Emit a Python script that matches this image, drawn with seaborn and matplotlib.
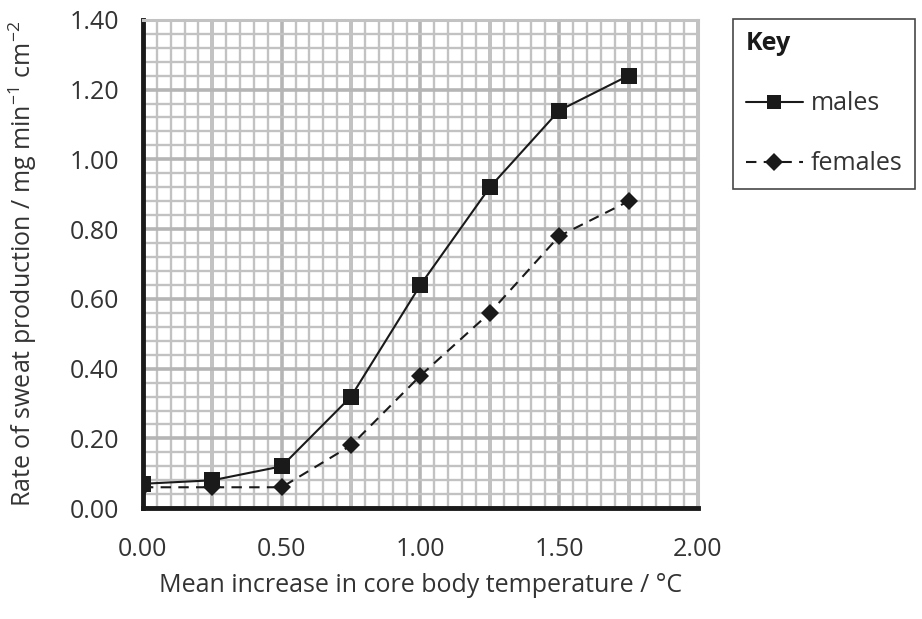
import matplotlib
matplotlib.use("Agg")
import matplotlib.pyplot as plt
from matplotlib.lines import Line2D
from matplotlib.ticker import MultipleLocator
import seaborn as sns
import pandas as pd

temperature = [0.00, 0.25, 0.50, 0.75, 1.00, 1.25, 1.50, 1.75]
males = [0.07, 0.08, 0.12, 0.32, 0.64, 0.92, 1.14, 1.24]
females = [0.06, 0.06, 0.06, 0.18, 0.38, 0.56, 0.78, 0.88]
series_names = ["males", "females"]
x_ticks = [0.00, 0.50, 1.00, 1.50, 2.00]
y_ticks = [0.00, 0.20, 0.40, 0.60, 0.80, 1.00, 1.20, 1.40]

df = pd.DataFrame({
    "temp": temperature * 2,
    "rate": males + females,
    "sex": [series_names[0]] * len(males) + [series_names[1]] * len(females),
})

sns.set_style("white")
plt.rcParams["font.family"] = ["Open Sans", "DejaVu Sans"]
plt.rcParams["mathtext.fontset"] = "custom"
plt.rcParams["mathtext.rm"] = "Open Sans"
plt.rcParams["mathtext.it"] = "Open Sans"
plt.rcParams["mathtext.default"] = "regular"

text_color = "#333333"
ink = "#1a1a1a"
grid_minor = "#c2c2c2"
grid_major = "#b5b5b5"

fig = plt.figure(figsize=(9.22, 6.19), dpi=100)
ax = fig.add_axes([0.155, 0.179, 0.602, 0.789])

sns.lineplot(
    data=df, x="temp", y="rate", style="sex",
    markers={"males": "s", "females": "D"},
    dashes={"males": "", "females": (5, 3.5)},
    color=ink, linewidth=1.5, markersize=11,
    markeredgewidth=0, ax=ax, legend=False,
)
for line in ax.lines:
    if line.get_marker() == "D":
        line.set_markersize(9.5)

ax.set_xlim(0, 2.0)
ax.set_ylim(0, 1.40)
ax.xaxis.set_minor_locator(MultipleLocator(0.05))
ax.yaxis.set_minor_locator(MultipleLocator(0.04))
ax.grid(True, which="minor", color=grid_minor, linewidth=1.7)
ax.grid(True, which="major", color=grid_major, linewidth=2.6)
ax.set_axisbelow(True)

ax.set_xticks(x_ticks)
ax.set_xticklabels([f"{v:.2f}" for v in x_ticks])
ax.set_yticks(y_ticks)
ax.set_yticklabels([f"{v:.2f}" for v in y_ticks])
for xv in [0.25, 0.75, 1.25, 1.75]:
    ax.axvline(xv, color=grid_major, linewidth=2.6, zorder=0.5)

ax.tick_params(axis="x", which="major", pad=10)
ax.tick_params(axis="y", which="major", pad=6)
ax.tick_params(axis="both", which="major", direction="out", length=11, width=1.3,
               color=ink, labelsize=18, labelcolor=text_color)
ax.tick_params(axis="both", which="minor", length=0)

for side in ["top", "right"]:
    ax.spines[side].set_color(grid_minor)
    ax.spines[side].set_linewidth(2.2)
for side in ["left", "bottom"]:
    ax.spines[side].set_color(ink)
    ax.spines[side].set_linewidth(3.5)

ax.set_xlabel("Mean increase in core body temperature / \u00b0C", fontsize=18,
              color=text_color, labelpad=8)
ax.set_ylabel("Rate of sweat production / mg min$^{-1}$ cm$^{-2}$", fontsize=18,
              color=text_color, labelpad=22)

handles = [
    Line2D([], [], color=ink, linewidth=1.5, marker="s", markersize=10, markeredgewidth=0),
    Line2D([], [], color=ink, linewidth=1.5, linestyle=(0, (5, 3.5)), marker="D",
           markersize=9, markeredgewidth=0),
]
leg = fig.legend(handles, series_names, title="Key", loc="upper left",
                 bbox_to_anchor=(733 / 922, 1 - 19 / 619), frameon=True,
                 fancybox=False, edgecolor=ink, fontsize=18, title_fontsize=18,
                 alignment="left", handlelength=2.3, labelspacing=1.4,
                 borderpad=0.5, handletextpad=0.3, borderaxespad=0)
leg.get_title().set_fontweight("bold")
leg.get_title().set_color(ink)
for t in leg.get_texts():
    t.set_color(text_color)
leg.get_frame().set_linewidth(1.2)

fig.savefig("out.png", dpi=100)
